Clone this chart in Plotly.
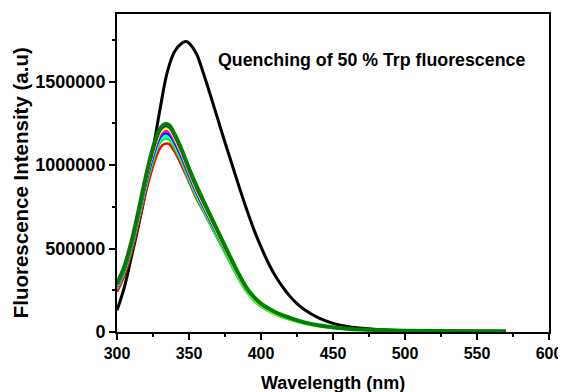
import plotly.graph_objects as go

wavelength = [300, 305, 310, 315, 320, 325, 330, 333, 336, 340, 345, 350, 355, 360, 365,
              370, 375, 380, 385, 390, 395, 400, 410, 420, 430, 440, 450, 460, 470, 480,
              500, 520, 540, 570]

black_wl = [300, 305, 310, 315, 320, 325, 330, 335, 340, 345, 348, 350, 355, 360, 365,
            370, 375, 380, 385, 390, 395, 400, 405, 410, 415, 420, 425, 430, 440, 450,
            460, 470, 480, 490, 500, 520, 540, 570]
trp_only = [130000, 265000, 450000, 640000, 850000, 1090000, 1340000, 1560000, 1680000,
            1730000, 1740000, 1730000, 1670000, 1550000, 1415000, 1275000, 1135000, 1000000,
            865000, 735000, 615000, 510000, 415000, 335000, 270000, 215000, 170000, 135000,
            85000, 52000, 33000, 22000, 15000, 11000, 8500, 6500, 5500, 4500]

red = [240000, 335000, 472000, 648000, 834000, 993000, 1103000, 1127000, 1127000, 1080000,
       995000, 900000, 803000, 722000, 641000, 559000, 478000, 396000, 318000, 248000,
       197000, 160000, 112000, 81000, 56000, 39000, 27500, 19800, 14800, 11300, 7900, 5900,
       4900, 3900]
lime = [258000, 355000, 497000, 676000, 864000, 1023000, 1135000, 1158000, 1153000, 1102000,
        1014000, 911000, 812000, 727000, 642000, 557000, 472000, 388000, 309000, 239000,
        188000, 151000, 104000, 74000, 50500, 34500, 24500, 17500, 13200, 10100, 7000, 5300,
        4400, 3500]
cyan = [266000, 364000, 508000, 688000, 877000, 1038000, 1152000, 1176000, 1171000, 1119000,
        1029000, 925000, 826000, 741000, 656000, 571000, 486000, 401000, 320000, 249000,
        197000, 159000, 110000, 79000, 54000, 37000, 26000, 18600, 14000, 10700, 7400, 5600,
        4600, 3700]
blue = [272000, 370000, 515000, 697000, 888000, 1051000, 1166000, 1190000, 1185000, 1133000,
        1042000, 937000, 837000, 750000, 664000, 578000, 492000, 406000, 325000, 253000,
        201000, 162000, 113000, 81000, 55500, 38200, 26800, 19100, 14300, 11000, 7600, 5700,
        4700, 3800]
magenta = [276000, 374000, 520000, 703000, 897000, 1062000, 1179000, 1203000, 1198000, 1145000,
           1053000, 947000, 845000, 758000, 671000, 584000, 497000, 410000, 328000, 256000,
           203000, 164000, 114000, 82000, 56000, 38500, 27000, 19300, 14500, 11100, 7700, 5800,
           4800, 3800]
yellow = [278000, 378000, 525000, 712000, 908000, 1075000, 1193000, 1218000, 1213000, 1159000,
          1066000, 958000, 853000, 764000, 675000, 586000, 497000, 408000, 325000, 252000,
          198000, 160000, 110000, 79000, 54000, 37000, 26000, 18500, 14000, 10500, 7400, 5600,
          4700, 3700]
navy = [285000, 385000, 533000, 722000, 920000, 1088000, 1208000, 1232000, 1228000, 1173000,
        1079000, 970000, 866000, 777000, 688000, 599000, 510000, 420000, 336000, 262000,
        207000, 168000, 116000, 84000, 57000, 39500, 27500, 19800, 14800, 11300, 7900, 5900,
        4900, 3900]
dark_green = [290000, 390000, 540000, 730000, 930000, 1105000, 1220000, 1245000, 1240000, 1185000,
              1090000, 980000, 880000, 785000, 695000, 605000, 515000, 425000, 340000, 265000,
              210000, 170000, 118000, 85000, 58000, 40000, 28000, 20000, 15000, 11500, 8000, 6000,
              5000, 4000]

quench_series = [
    ("red", red, "#FF0000", 2.5),
    ("lime", lime, "#00FF00", 2.5),
    ("cyan", cyan, "#00FFFF", 2.5),
    ("blue", blue, "#0000FF", 2.5),
    ("magenta", magenta, "#FF00FF", 2.5),
    ("yellow", yellow, "#FFFF00", 2.5),
    ("navy", navy, "#000080", 2.5),
    ("dark green", dark_green, "#008000", 4),
]

x_ticks = [300, 350, 400, 450, 500, 550, 600]
y_ticks = [0, 500000, 1000000, 1500000]
y_tick_labels = ["0", "500000", "1000000", "1500000"]

FONT = "Arial, 'Liberation Sans', sans-serif"

fig = go.Figure()
fig.add_trace(go.Scatter(x=black_wl, y=trp_only, mode="lines",
                         line=dict(color="#000000", width=3, shape="spline"),
                         showlegend=False))
for name, vals, col, w in quench_series:
    fig.add_trace(go.Scatter(x=wavelength, y=vals, mode="lines", name=name,
                             line=dict(color=col, width=w, shape="spline"),
                             showlegend=False))

fig.add_annotation(x=477, y=1630000, xref="x", yref="y",
                   text="<b>Quenching of 50 % Trp fluorescence</b>",
                   showarrow=False, font=dict(family=FONT, size=17.8, color="black"))

# axis titles
fig.add_annotation(x=-0.2235, y=0.469, xref="paper", yref="paper",
                   text="<b>Fluorescence Intensity (a.u)</b>", textangle=-90,
                   xanchor="center", yanchor="middle", showarrow=False,
                   font=dict(family=FONT, size=20.5, color="black"))
fig.add_annotation(x=0.5, y=-0.160, xref="paper", yref="paper",
                   text="<b>Wavelength (nm)</b>",
                   xanchor="center", yanchor="middle", showarrow=False,
                   font=dict(family=FONT, size=18, color="black"))

# page body adds an 8px offset; figure is sized so the plot area lands where the reference has it
fig.update_layout(
    width=558, height=384,
    margin=dict(l=109, r=17, t=6, b=60, autoexpand=False),
    paper_bgcolor="white", plot_bgcolor="white",
    font=dict(family=FONT, color="black"),
)
fig.update_xaxes(
    range=[300, 600], tickvals=x_ticks, ticktext=[f"<b>{v}</b>" for v in x_ticks],
    ticks="outside", ticklen=6, tickwidth=2, tickcolor="black",
    minor=dict(dtick=25, ticks="outside", ticklen=3, tickwidth=2, tickcolor="black"),
    showline=True, linewidth=2, linecolor="black", mirror=True,
    showgrid=False, zeroline=False, automargin=False,
    tickfont=dict(family=FONT, size=16, color="black"),
)
fig.update_yaxes(
    range=[0, 1905000], tickvals=y_ticks, ticktext=[f"<b>{t}</b>" for t in y_tick_labels],
    ticks="outside", ticklen=6, tickwidth=2, tickcolor="black",
    minor=dict(dtick=250000, ticks="outside", ticklen=3, tickwidth=2, tickcolor="black"),
    showline=True, linewidth=2, linecolor="black", mirror=True,
    showgrid=False, zeroline=False, automargin=False,
    tickfont=dict(family=FONT, size=18, color="black"),
)

fig.write_html("out.html")
